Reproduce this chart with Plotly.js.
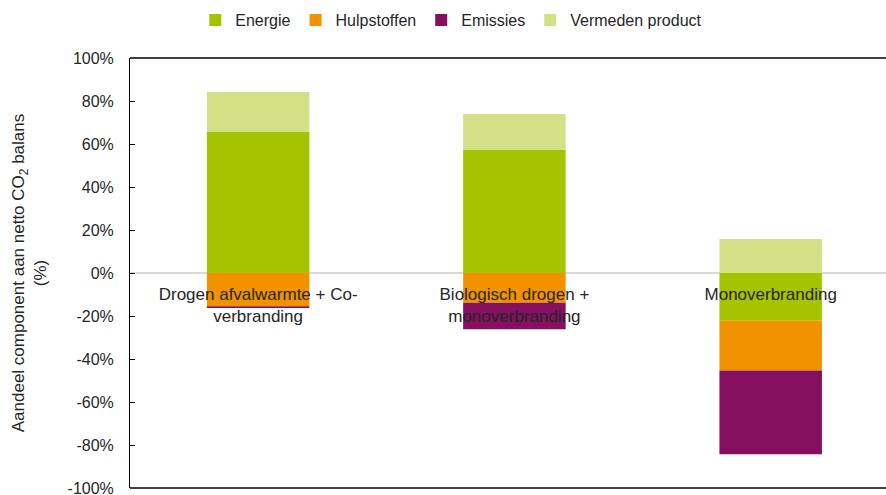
<!DOCTYPE html>
<html>
<head>
<meta charset="utf-8">
<script src="https://cdn.plot.ly/plotly-3.0.1.min.js"></script>
<style>html,body{margin:0;padding:0;background:#fff;}#chart{width:886px;height:495px;}</style>
</head>
<body>
<div id="chart"></div>
<script>
const categories = ["Drogen afvalwarmte + Co-verbranding", "Biologisch drogen + monoverbranding", "Monoverbranding"];
const tickLabels = ["Drogen afvalwarmte + Co-<br>verbranding", "Biologisch drogen +<br>monoverbranding", "Monoverbranding"];
const energie = [65.6, 57.2, -22.2];
const hulpstoffen = [-15.5, -13.8, -23.1];
const emissies = [-0.8, -12.4, -39.0];
const vermeden = [18.6, 16.8, 15.8];

const yTickValues = [-100, -80, -60, -40, -20, 0, 20, 40, 60, 80, 100];
const yTickLabels = ["-100%", "-80%", "-60%", "-40%", "-20%", "0%", "20%", "40%", "60%", "80%", "100%"];

const seriesNames = ["Energie", "Hulpstoffen", "Emissies", "Vermeden product"];
const seriesValues = [energie, hulpstoffen, emissies, vermeden];
const seriesColors = ["#A6C300", "#F39200", "#84105F", "#D4E085"];

const traces = seriesNames.map((n, i) => ({
  type: "bar",
  name: n,
  x: categories,
  y: seriesValues[i],
  width: 0.4,
  marker: {color: seriesColors[i], line: {width: 0}},
  hoverinfo: "skip"
}));

const font = "Liberation Sans, Arial, sans-serif";
const layout = {
  width: 886, height: 495,
  margin: {l: 130, r: 0, t: 58, b: 7},
  barmode: "relative",
  paper_bgcolor: "#fff",
  plot_bgcolor: "#fff",
  font: {family: font, color: "#262626", size: 16},
  showlegend: true,
  legend: {
    orientation: "h", x: 0.425, xanchor: "center", y: 1.088, yanchor: "middle",
    font: {family: font, size: 16, color: "#262626"},
    itemwidth: 30, traceorder: "normal", bgcolor: "rgba(0,0,0,0)"
  },
  xaxis: {
    type: "category",
    range: [-0.5, 2.45],
    anchor: "free", position: 0.5,
    showline: false, ticks: "", showgrid: false, zeroline: false,
    tickvals: categories, ticktext: tickLabels,
    tickfont: {family: font, size: 17, color: "#262626"},
    ticklabelstandoff: 9,
    fixedrange: true
  },
  yaxis: {
    range: [-100, 100],
    tickmode: "array",
    tickvals: yTickValues, ticktext: yTickLabels,
    ticks: "inside", ticklen: 5, tickcolor: "#000", tickwidth: 1,
    ticklabelstandoff: 12,
    ticklabeloverflow: "allow",
    showline: true, linecolor: "#000", linewidth: 1,
    showgrid: false,
    zeroline: true, zerolinecolor: "#D9D9D9", zerolinewidth: 1.5,
    tickfont: {family: font, size: 16, color: "#262626"},
    title: {
      text: "Aandeel component aan netto CO<sub>2</sub> balans<br>(%)",
      font: {family: font, size: 17, color: "#262626"},
      standoff: 16
    },
    fixedrange: true
  },
  shapes: [
    {type: "line", xref: "paper", yref: "paper", x0: 0, x1: 1, y0: 1, y1: 1, line: {color: "#000", width: 1.5}},
    {type: "line", xref: "paper", yref: "paper", x0: 0, x1: 1, y0: 0, y1: 0, line: {color: "#000", width: 1.5}}
  ]
};

Plotly.newPlot("chart", traces, layout, {displayModeBar: false, staticPlot: true});
</script>
</body>
</html>
